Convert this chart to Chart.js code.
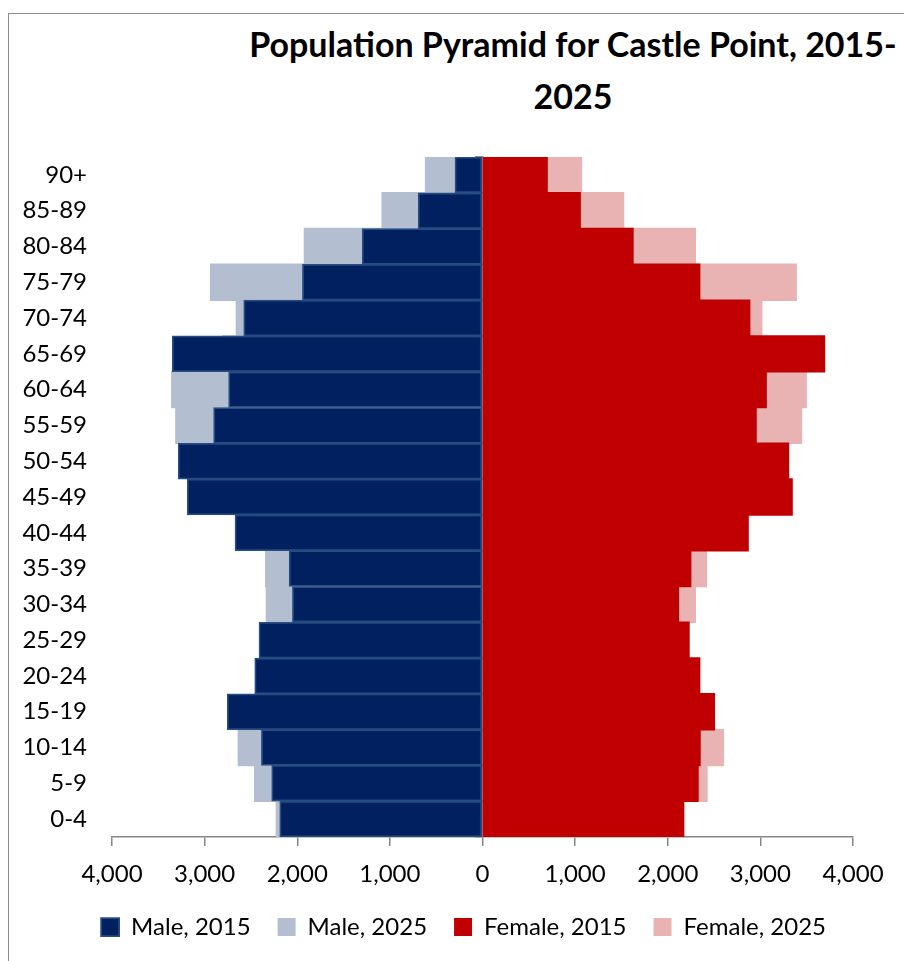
<!DOCTYPE html>
<html>
<head>
<meta charset="utf-8">
<script src="https://cdn.jsdelivr.net/npm/chart.js@4.4.1/dist/chart.umd.min.js"></script>
<style>
  html, body { margin: 0; padding: 0; background: #fff; overflow: hidden; }
  .card { position: relative; width: 904px; height: 961px; overflow: hidden; }
  .frame {
    position: absolute; left: 8px; top: 13px; width: 1200px; height: 1200px;
    border-left: 1.5px solid #8c8c8c; border-top: 1.5px solid #8c8c8c;
  }
  .title {
    position: absolute; left: 0; top: 18px; width: 1146px; text-align: center;
    font-family: Lato, sans-serif; font-weight: bold; font-size: 34px; line-height: 52px; color: #000;
  }
  .chart-box { position: absolute; left: 0; top: 0; width: 904px; height: 961px; }
</style>
</head>
<body>
<div class="card">
  <div class="frame"></div>
  <div class="title">Population Pyramid for Castle Point, 2015-<br>2025</div>
  <div class="chart-box">
    <canvas id="pyramidChart"></canvas>
  </div>
</div>
<script>
const AGE_GROUPS = [
  "0-4", "5-9", "10-14", "15-19", "20-24", "25-29", "30-34", "35-39", "40-44",
  "45-49", "50-54", "55-59", "60-64", "65-69", "70-74", "75-79", "80-84", "85-89", "90+",
];

const MALE_2015 = [2189, 2276, 2387, 2755, 2459, 2413, 2052, 2088, 2672, 3187, 3285, 2903, 2741, 3349, 2578, 1944, 1299, 694, 297];
const MALE_2025 = [2225, 2459, 2636, 2400, 2200, 2300, 2333, 2340, 2250, 2300, 2650, 3310, 3354, 2800, 2657, 2935, 1922, 1083, 614];
const FEMALE_2015 = [2171, 2326, 2348, 2503, 2344, 2229, 2114, 2247, 2867, 3342, 3303, 2953, 3062, 3692, 2884, 2344, 1624, 1054, 697];
const FEMALE_2025 = [2100, 2423, 2600, 2400, 2100, 2150, 2297, 2416, 2300, 2400, 2850, 3443, 3494, 2950, 3014, 3386, 2297, 1522, 1068];

const X_TICKS = [-4000, -3000, -2000, -1000, 0, 1000, 2000, 3000, 4000];

const AXIS_GREY = "#868686";
const FONT_FAMILY = "Lato, sans-serif";
const PAD_LEFT = 20;
const PLOT_LEFT = 112;

const negate = (values) => values.map((v) => -v);
const formatCount = (value) => Math.abs(value).toLocaleString("en-US");

Chart.defaults.font.family = FONT_FAMILY;
Chart.defaults.color = "#000";

const buildChart = () => {
  const ctx = document.getElementById("pyramidChart");

  return new Chart(ctx, {
    type: "bar",
    data: {
      labels: AGE_GROUPS,
      datasets: [
        {
          label: "Male, 2015",
          data: negate(MALE_2015),
          backgroundColor: "#00205f",
          borderColor: "#264d82",
          borderWidth: 1.75,
          borderSkipped: false,
          grouped: false,
          order: 1,
        },
        {
          label: "Male, 2025",
          data: negate(MALE_2025),
          backgroundColor: "#b4bed1",
          borderWidth: 0,
          inflateAmount: 0.75,
          grouped: false,
          order: 2,
        },
        {
          label: "Female, 2015",
          data: FEMALE_2015,
          backgroundColor: "#c00000",
          borderColor: "#c00000",
          borderWidth: 0,
          inflateAmount: 0.75,
          grouped: false,
          order: 1,
        },
        {
          label: "Female, 2025",
          data: FEMALE_2025,
          backgroundColor: "#e9b3b3",
          borderWidth: 0,
          inflateAmount: 0.75,
          grouped: false,
          order: 2,
        },
      ],
    },
    options: {
      indexAxis: "y",
      responsive: true,
      maintainAspectRatio: false,
      animation: false,
      barPercentage: 1,
      categoryPercentage: 1,
      layout: {
        padding: { top: 157, left: PAD_LEFT, right: 51, bottom: 12 },
      },
      plugins: {
        title: { display: false },
        tooltip: {
          callbacks: {
            label(context) {
              return `${context.dataset.label}: ${formatCount(context.parsed.x)}`;
            },
          },
        },
        legend: {
          position: "bottom",
          align: "end",
          labels: {
            sort: (a, b) => a.datasetIndex - b.datasetIndex,
            boxWidth: 18,
            boxHeight: 18,
            padding: 27,
            font: { size: 24, family: FONT_FAMILY },
            color: "#000",
          },
        },
      },
      scales: {
        x: {
          min: -4000,
          max: 4000,
          afterBuildTicks(scale) {
            scale.ticks = X_TICKS.map((value) => ({ value }));
          },
          afterFit(scale) {
            scale.height = 51;
          },
          ticks: {
            padding: 14,
            maxRotation: 0,
            font: { size: 24 },
            color: "#000",
            callback: (value) => formatCount(value),
          },
          grid: {
            drawOnChartArea: false,
            drawTicks: true,
            tickLength: 9,
            color: AXIS_GREY,
            lineWidth: 1.5,
          },
          border: { color: AXIS_GREY, width: 1.5 },
        },
        y: {
          reverse: true,
          afterFit(scale) {
            scale.width = PLOT_LEFT - PAD_LEFT;
          },
          ticks: {
            padding: 25,
            font: { size: 24 },
            color: "#000",
          },
          grid: { display: false, drawTicks: false },
          border: { display: false },
        },
        yZero: {
          type: "category",
          axis: "y",
          position: { x: 0 },
          reverse: true,
          offset: true,
          z: 1,
          ticks: { display: false },
          grid: {
            offset: true,
            drawOnChartArea: false,
            drawTicks: true,
            tickLength: 7,
            color: AXIS_GREY,
            lineWidth: 1.5,
          },
          border: { color: AXIS_GREY, width: 1.5 },
        },
      },
    },
  });
};

buildChart();
</script>
</body>
</html>
